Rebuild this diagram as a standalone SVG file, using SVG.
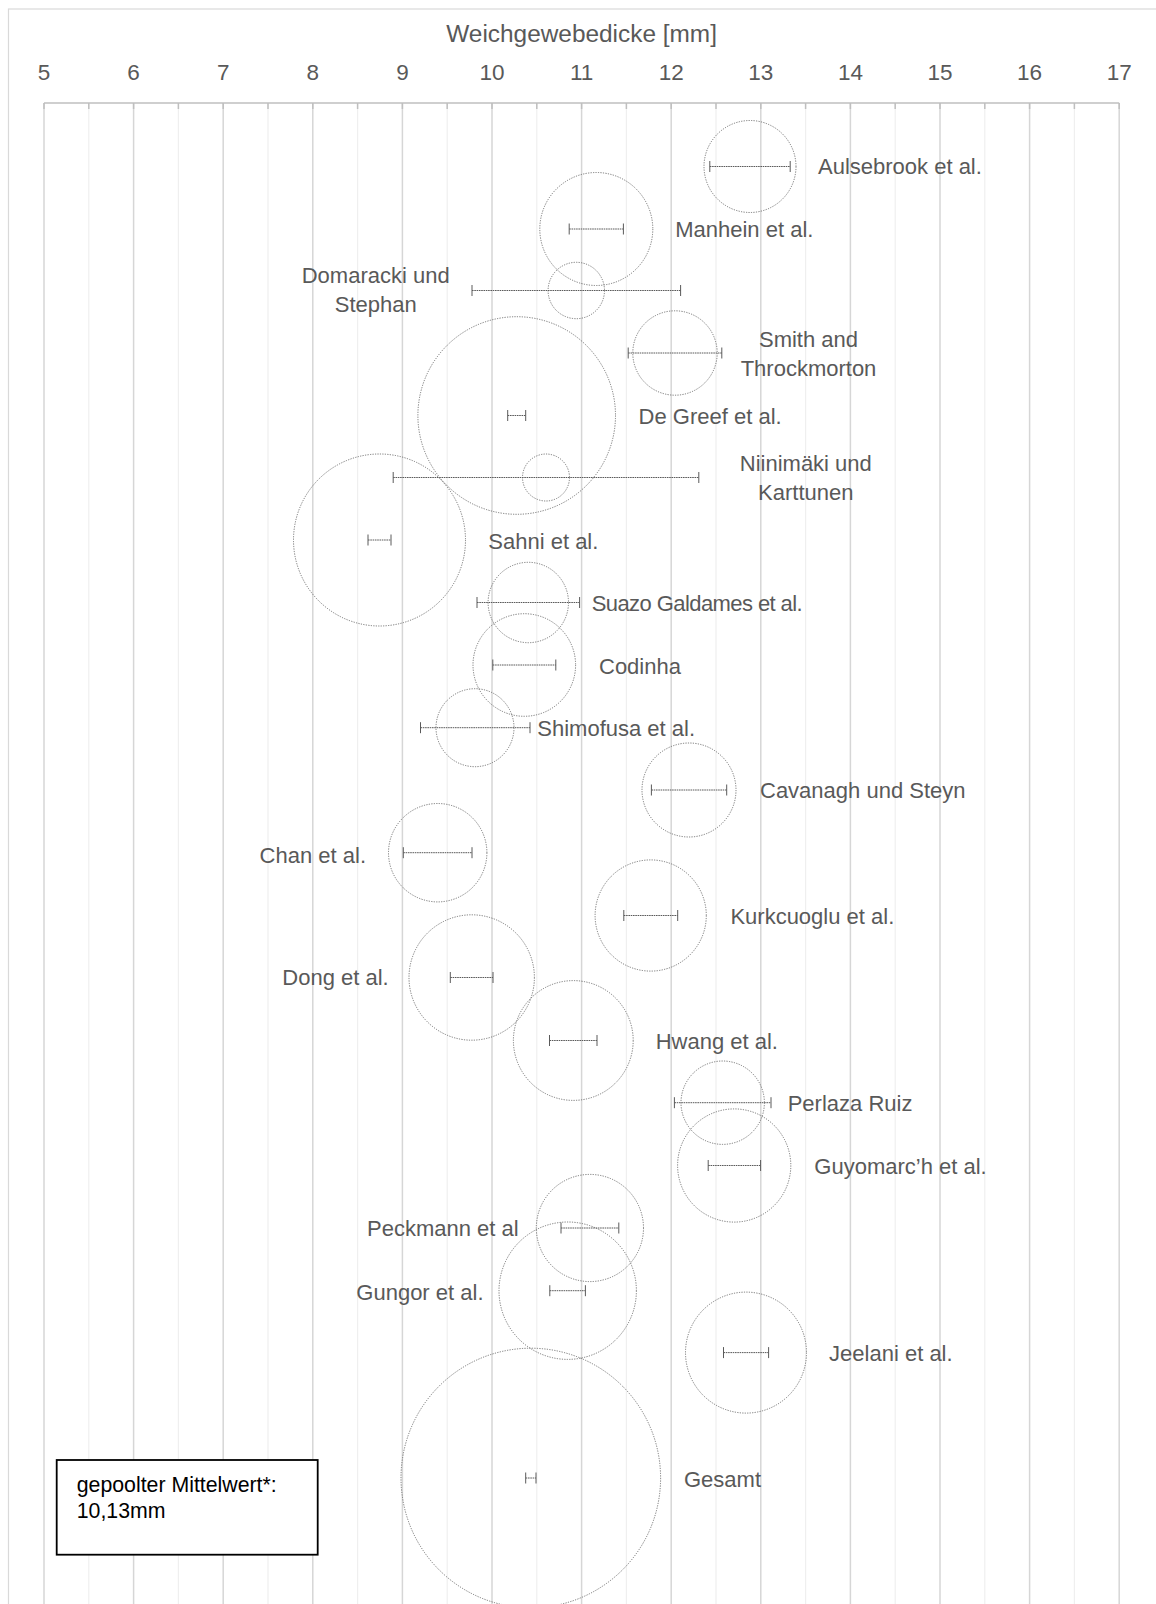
<svg xmlns="http://www.w3.org/2000/svg" width="1156" height="1604" viewBox="0 0 1156 1604">
  <style>
    .frame { fill: #ffffff; stroke: #d9d9d9; stroke-width: 1.2; }
    .grid-major { stroke: #d6d6d6; stroke-width: 1.5; }
    .grid-minor { stroke: #efefef; stroke-width: 1.2; }
    .axis { stroke: #bfbfbf; stroke-width: 1.5; fill: none; }
    .bubble { fill: none; stroke: #666666; stroke-width: 0.9; stroke-dasharray: 1.2 1.3; }
    .bar { stroke: #5a5a5a; stroke-width: 1; stroke-dasharray: 1.6 0.7; }
    .cap { stroke: #5a5a5a; stroke-width: 1; fill: none; }
    .title { font-family: "Liberation Sans", Arial, sans-serif; font-size: 24.4px; fill: #595959; text-anchor: middle; }
    .tick { font-family: "Liberation Sans", Arial, sans-serif; font-size: 22.5px; fill: #595959; text-anchor: middle; }
    .lbl { font-family: "Liberation Sans", Arial, sans-serif; font-size: 22px; fill: #595959; }
    .end { text-anchor: end; }
    .mid { text-anchor: middle; }
    .note { font-family: "Liberation Sans", Arial, sans-serif; font-size: 21.3px; fill: #000000; }
  </style>

  <!-- chart area -->
  <rect class="frame" x="8.5" y="9" width="1200" height="1650"/>

  <!-- vertical grid, value axis 5..17 mm -->
  <g id="grid">
    <g class="grid-minor">
      <line x1="88.8" y1="103" x2="88.8" y2="1604"/>
      <line x1="178.4" y1="103" x2="178.4" y2="1604"/>
      <line x1="268" y1="103" x2="268" y2="1604"/>
      <line x1="357.6" y1="103" x2="357.6" y2="1604"/>
      <line x1="447.2" y1="103" x2="447.2" y2="1604"/>
      <line x1="536.8" y1="103" x2="536.8" y2="1604"/>
      <line x1="626.4" y1="103" x2="626.4" y2="1604"/>
      <line x1="716" y1="103" x2="716" y2="1604"/>
      <line x1="805.6" y1="103" x2="805.6" y2="1604"/>
      <line x1="895.2" y1="103" x2="895.2" y2="1604"/>
      <line x1="984.8" y1="103" x2="984.8" y2="1604"/>
      <line x1="1074.4" y1="103" x2="1074.4" y2="1604"/>
    </g>
    <g class="grid-major">
      <line x1="44" y1="103" x2="44" y2="1604"/>
      <line x1="133.6" y1="103" x2="133.6" y2="1604"/>
      <line x1="223.2" y1="103" x2="223.2" y2="1604"/>
      <line x1="312.8" y1="103" x2="312.8" y2="1604"/>
      <line x1="402.4" y1="103" x2="402.4" y2="1604"/>
      <line x1="492" y1="103" x2="492" y2="1604"/>
      <line x1="581.6" y1="103" x2="581.6" y2="1604"/>
      <line x1="671.2" y1="103" x2="671.2" y2="1604"/>
      <line x1="760.8" y1="103" x2="760.8" y2="1604"/>
      <line x1="850.4" y1="103" x2="850.4" y2="1604"/>
      <line x1="940" y1="103" x2="940" y2="1604"/>
      <line x1="1029.6" y1="103" x2="1029.6" y2="1604"/>
      <line x1="1119.2" y1="103" x2="1119.2" y2="1604"/>
    </g>
  </g>

  <!-- top value axis with ticks -->
  <g id="x-axis">
    <line class="axis" x1="44" y1="103" x2="1119.2" y2="103"/>
    <path class="axis" d="M44 103v6M88.8 103v6M133.6 103v6M178.4 103v6M223.2 103v6M268 103v6M312.8 103v6M357.6 103v6M402.4 103v6M447.2 103v6M492 103v6M536.8 103v6M581.6 103v6M626.4 103v6M671.2 103v6M716 103v6M760.8 103v6M805.6 103v6M850.4 103v6M895.2 103v6M940 103v6M984.8 103v6M1029.6 103v6M1074.4 103v6M1119.2 103v6"/>
    <text class="title" x="581.6" y="41.5">Weichgewebedicke [mm]</text>
    <g class="tick">
      <text x="44" y="80">5</text>
      <text x="133.6" y="80">6</text>
      <text x="223.2" y="80">7</text>
      <text x="312.8" y="80">8</text>
      <text x="402.4" y="80">9</text>
      <text x="492" y="80">10</text>
      <text x="581.6" y="80">11</text>
      <text x="671.2" y="80">12</text>
      <text x="760.8" y="80">13</text>
      <text x="850.4" y="80">14</text>
      <text x="940" y="80">15</text>
      <text x="1029.6" y="80">16</text>
      <text x="1119.2" y="80">17</text>
    </g>
  </g>

  <!-- error bars (confidence intervals) -->
  <g id="connectors">
    <g class="bar">
      <line x1="709.8" y1="166.5" x2="790.2" y2="166.5"/>
      <line x1="569.2" y1="229" x2="623.4" y2="229"/>
      <line x1="472" y1="290.5" x2="680.6" y2="290.5"/>
      <line x1="628.2" y1="353" x2="721.8" y2="353"/>
      <line x1="507.7" y1="415.5" x2="525.7" y2="415.5"/>
      <line x1="393.2" y1="477.5" x2="698.8" y2="477.5"/>
      <line x1="368" y1="540" x2="391" y2="540"/>
      <line x1="477" y1="602.5" x2="579.6" y2="602.5"/>
      <line x1="492.8" y1="665" x2="555.8" y2="665"/>
      <line x1="420.5" y1="727.7" x2="530" y2="727.7"/>
      <line x1="651.4" y1="790" x2="726.7" y2="790"/>
      <line x1="403.3" y1="852.7" x2="472" y2="852.7"/>
      <line x1="623.8" y1="915.5" x2="677.7" y2="915.5"/>
      <line x1="450.3" y1="977.5" x2="493" y2="977.5"/>
      <line x1="549.5" y1="1040.5" x2="597" y2="1040.5"/>
      <line x1="674.4" y1="1102.7" x2="771" y2="1102.7"/>
      <line x1="708.2" y1="1165.5" x2="760.6" y2="1165.5"/>
      <line x1="561" y1="1228" x2="618.8" y2="1228"/>
      <line x1="549.8" y1="1290.7" x2="585.4" y2="1290.7"/>
      <line x1="723.5" y1="1352.6" x2="768.6" y2="1352.6"/>
      <line x1="525.7" y1="1478" x2="536" y2="1478"/>
    </g>
    <path class="cap" d="M709.8 161v11M790.2 161v11
      M569.2 223.5v11M623.4 223.5v11
      M472 285v11M680.6 285v11
      M628.2 347.5v11M721.8 347.5v11
      M507.7 410v11M525.7 410v11
      M393.2 472v11M698.8 472v11
      M368 534.5v11M391 534.5v11
      M477 597v11M579.6 597v11
      M492.8 659.5v11M555.8 659.5v11
      M420.5 722.2v11M530 722.2v11
      M651.4 784.5v11M726.7 784.5v11
      M403.3 847.2v11M472 847.2v11
      M623.8 910v11M677.7 910v11
      M450.3 972v11M493 972v11
      M549.5 1035v11M597 1035v11
      M674.4 1097.2v11M771 1097.2v11
      M708.2 1160v11M760.6 1160v11
      M561 1222.5v11M618.8 1222.5v11
      M549.8 1285.2v11M585.4 1285.2v11
      M723.5 1347.1v11M768.6 1347.1v11
      M525.7 1472.5v11M536 1472.5v11"/>
  </g>

  <!-- studies: bubble size = weight, label beside -->
  <g id="aulsebrook">
    <circle class="bubble" cx="750" cy="166.5" r="46"/>
    <text class="lbl" x="818" y="174">Aulsebrook et al.</text>
  </g>
  <g id="manhein">
    <circle class="bubble" cx="596.3" cy="229" r="56.5"/>
    <text class="lbl" x="675.2" y="236.5">Manhein et al.</text>
  </g>
  <g id="domaracki">
    <circle class="bubble" cx="576.3" cy="290.5" r="28.2"/>
    <text class="lbl mid" x="375.7" y="283"><tspan x="375.7">Domaracki und</tspan><tspan x="375.7" dy="29">Stephan</tspan></text>
  </g>
  <g id="smith">
    <circle class="bubble" cx="675" cy="353" r="42.2"/>
    <text class="lbl mid" x="808.5" y="346.5"><tspan x="808.5">Smith and</tspan><tspan x="808.5" dy="29">Throckmorton</tspan></text>
  </g>
  <g id="degreef">
    <circle class="bubble" cx="516.7" cy="415.5" r="98.8"/>
    <text class="lbl" x="638.6" y="424">De Greef et al.</text>
  </g>
  <g id="niinimaki">
    <circle class="bubble" cx="546" cy="477.5" r="23.5"/>
    <text class="lbl mid" x="805.8" y="470.5"><tspan x="805.8">Niinimäki und</tspan><tspan x="805.8" dy="29">Karttunen</tspan></text>
  </g>
  <g id="sahni">
    <circle class="bubble" cx="379.5" cy="540" r="86"/>
    <text class="lbl" x="488.3" y="549">Sahni et al.</text>
  </g>
  <g id="suazo">
    <circle class="bubble" cx="528.3" cy="602.5" r="40.2"/>
    <text class="lbl" x="591.7" y="611" textLength="211" lengthAdjust="spacing">Suazo Galdames et al.</text>
  </g>
  <g id="codinha">
    <circle class="bubble" cx="524.3" cy="665" r="51.3"/>
    <text class="lbl" x="599" y="673.5">Codinha</text>
  </g>
  <g id="shimofusa">
    <circle class="bubble" cx="475" cy="727.7" r="39"/>
    <text class="lbl" x="537.3" y="735.5">Shimofusa et al.</text>
  </g>
  <g id="cavanagh">
    <circle class="bubble" cx="689" cy="790" r="47"/>
    <text class="lbl" x="760" y="798">Cavanagh und Steyn</text>
  </g>
  <g id="chan">
    <circle class="bubble" cx="437.7" cy="852.7" r="49.2"/>
    <text class="lbl end" x="366" y="863">Chan et al.</text>
  </g>
  <g id="kurkcuoglu">
    <circle class="bubble" cx="650.7" cy="915.5" r="55.6"/>
    <text class="lbl" x="730.4" y="923.5">Kurkcuoglu et al.</text>
  </g>
  <g id="dong">
    <circle class="bubble" cx="471.7" cy="977.5" r="62.7"/>
    <text class="lbl end" x="388.7" y="985">Dong et al.</text>
  </g>
  <g id="hwang">
    <circle class="bubble" cx="573.3" cy="1040.5" r="59.9"/>
    <text class="lbl" x="655.7" y="1048.5">Hwang et al.</text>
  </g>
  <g id="perlaza">
    <circle class="bubble" cx="722.7" cy="1102.7" r="41.7"/>
    <text class="lbl" x="787.7" y="1110.5">Perlaza Ruiz</text>
  </g>
  <g id="guyomarch">
    <circle class="bubble" cx="734.2" cy="1165.5" r="56.6"/>
    <text class="lbl" x="814.3" y="1173.5">Guyomarc’h et al.</text>
  </g>
  <g id="peckmann">
    <circle class="bubble" cx="589.9" cy="1228" r="53.6"/>
    <text class="lbl end" x="518.7" y="1236">Peckmann et al</text>
  </g>
  <g id="gungor">
    <circle class="bubble" cx="567.7" cy="1290.7" r="68.7"/>
    <text class="lbl end" x="483.5" y="1299.5">Gungor et al.</text>
  </g>
  <g id="jeelani">
    <circle class="bubble" cx="746" cy="1352.6" r="60.5"/>
    <text class="lbl" x="829.1" y="1361">Jeelani et al.</text>
  </g>
  <g id="gesamt">
    <circle class="bubble" cx="530.8" cy="1478" r="129.8"/>
    <text class="lbl" x="684" y="1486.5">Gesamt</text>
  </g>

  <!-- pooled mean note -->
  <g id="pooled-mean">
    <rect x="56.7" y="1460" width="261" height="94.7" fill="#ffffff" stroke="#000000" stroke-width="1.8"/>
    <text class="note" x="76.7" y="1491.5">gepoolter Mittelwert*:</text>
    <text class="note" x="76.7" y="1517.5">10,13mm</text>
  </g>
</svg>
